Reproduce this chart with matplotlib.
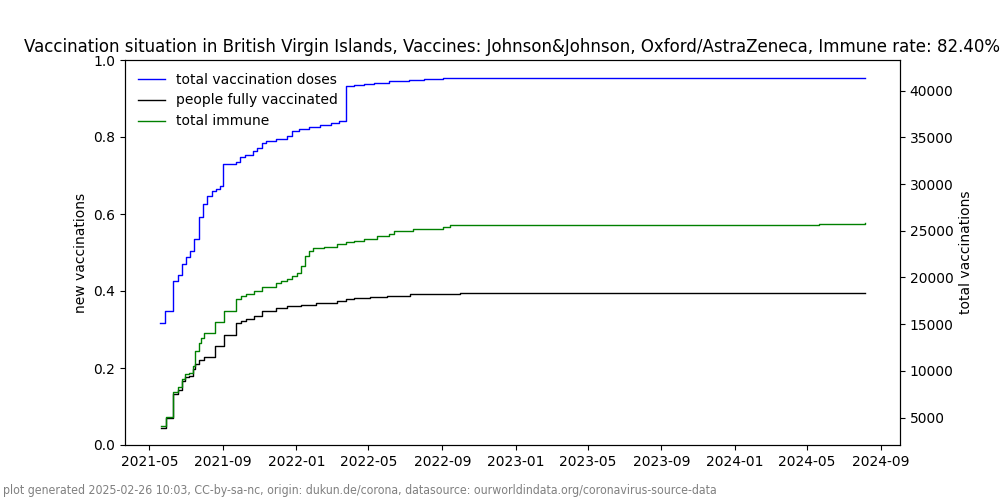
import matplotlib
matplotlib.use("Agg")
import matplotlib.pyplot as plt
import pandas as pd

# total vaccination doses
doses_dates = ["2021-05-19", "2021-05-27", "2021-06-10", "2021-06-18", "2021-06-24",
               "2021-07-01", "2021-07-08", "2021-07-15", "2021-07-22", "2021-07-29",
               "2021-08-05", "2021-08-13", "2021-08-20", "2021-08-27", "2021-09-01",
               "2021-09-22", "2021-09-29", "2021-10-07", "2021-10-21", "2021-10-28",
               "2021-11-05", "2021-11-11", "2021-11-28", "2021-12-17", "2021-12-24",
               "2022-01-05", "2022-01-22", "2022-02-09", "2022-02-28", "2022-03-13",
               "2022-03-24", "2022-04-07", "2022-04-23", "2022-05-10", "2022-06-04",
               "2022-07-07", "2022-08-01", "2022-09-03", "2022-09-23", "2024-08-05"]
doses = [15100, 16400, 19600, 20300, 21450,
         22240, 22880, 24130, 26520, 27870,
         28760, 29230, 29480, 29840, 32150,
         32330, 32940, 33080, 33580, 33870,
         34360, 34580, 34830, 35190, 35720,
         35900, 36150, 36360, 36500, 36790,
         40530, 40640, 40750, 40860, 41000,
         41180, 41290, 41360, 41420, 41420]

# people fully vaccinated
full_dates = ["2021-05-20", "2021-05-28", "2021-06-10", "2021-06-17", "2021-06-24",
              "2021-06-30", "2021-07-06", "2021-07-12", "2021-07-16", "2021-07-22",
              "2021-07-31", "2021-08-19", "2021-09-03", "2021-09-23", "2021-09-30",
              "2021-10-09", "2021-10-23", "2021-11-05", "2021-11-28", "2021-12-16",
              "2022-01-08", "2022-02-02", "2022-03-10", "2022-03-24", "2022-04-07",
              "2022-05-04", "2022-06-01", "2022-07-10", "2022-08-21", "2022-10-01",
              "2024-08-05"]
full = [3930, 4930, 7500, 7930, 8930,
        9290, 9460, 10180, 10710, 11140,
        11530, 12680, 13860, 15070, 15360,
        15540, 15890, 16430, 16720, 16960,
        17080, 17230, 17500, 17680, 17790,
        17900, 18040, 18220, 18280, 18300,
        18300]

# total immune
immune_dates = ["2021-05-20", "2021-05-28", "2021-06-10", "2021-06-17", "2021-06-24",
                "2021-06-30", "2021-07-06", "2021-07-12", "2021-07-16", "2021-07-22",
                "2021-07-26", "2021-07-31", "2021-08-19", "2021-09-03", "2021-09-23",
                "2021-09-30", "2021-10-09", "2021-10-23", "2021-11-05", "2021-11-28",
                "2021-12-06", "2021-12-17", "2021-12-25", "2022-01-02", "2022-01-09",
                "2022-01-16", "2022-01-22", "2022-01-29", "2022-02-16", "2022-03-10",
                "2022-03-24", "2022-04-07", "2022-04-23", "2022-05-16", "2022-06-04",
                "2022-06-12", "2022-07-15", "2022-09-03", "2022-09-14", "2023-06-07",
                "2024-05-21", "2024-08-05"]
immune = [4107, 5100, 7680, 8220, 9110,
          9640, 9820, 10540, 12140, 13030,
          13570, 14000, 15180, 16430, 17680,
          18040, 18210, 18570, 19000, 19460,
          19640, 19820, 20180, 20530, 21250,
          22320, 22860, 23110, 23290, 23570,
          23750, 23930, 24110, 24460, 24710,
          24930, 25180, 25430, 25580, 25640,
          25780, 25800]

fig, ax = plt.subplots(figsize=(10, 5), dpi=100)
ax.set_ylabel("new vaccinations")
ax.set_ylim(0, 1)

ax2 = ax.twinx()
ax2.plot(pd.to_datetime(doses_dates), doses, color="blue", lw=1,
         drawstyle="steps-post", label="total vaccination doses")
ax2.plot(pd.to_datetime(full_dates), full, color="black", lw=1,
         drawstyle="steps-post", label="people fully vaccinated")
ax2.plot(pd.to_datetime(immune_dates), immune, color="green", lw=1,
         drawstyle="steps-post", label="total immune")
ax2.set_ylabel("total vaccinations")
ax2.legend(loc="upper left", frameon=False)

ax.set_title("Vaccination situation in British Virgin Islands, Vaccines: Johnson&Johnson, "
             "Oxford/AstraZeneca, Immune rate: 82.40%")

fig.text(0.003, 0.012,
         "plot generated 2025-02-26 10:03, CC-by-sa-nc, origin: dukun.de/corona, "
         "datasource: ourworldindata.org/coronavirus-source-data",
         color="gray", fontsize=8.85, fontstretch="condensed")

fig.savefig("out.png")
